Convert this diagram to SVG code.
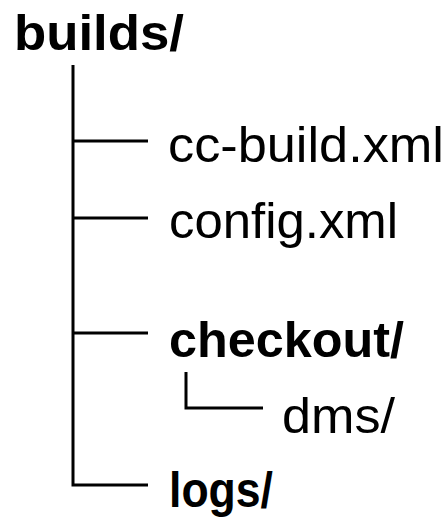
<svg xmlns="http://www.w3.org/2000/svg" width="445" height="519" viewBox="0 0 445 519">
<style>
.t{font-family:"Liberation Sans",Arial,Helvetica,sans-serif;font-size:50px;fill:#000}
.b{font-weight:bold}
.c{stroke:#000;stroke-width:3;fill:none}
</style>
<rect width="445" height="519" fill="#fff"/>
<g id="connectors">
<path class="c" d="M73 65 V485 H148"/>
<path class="c" d="M73 141 H148"/>
<path class="c" d="M73 218 H148"/>
<path class="c" d="M73 333 H148"/>
<path class="c" d="M186 372 V408 H263"/>
</g>
<g id="builds"><text class="t b" x="14" y="50" font-size="53" textLength="170" lengthAdjust="spacingAndGlyphs">builds/</text></g>
<g id="cc-build"><text class="t" x="168" y="162" textLength="276" lengthAdjust="spacingAndGlyphs">cc-build.xml</text></g>
<g id="config"><text class="t" x="169" y="238" textLength="229" lengthAdjust="spacingAndGlyphs">config.xml</text></g>
<g id="checkout"><text class="t b" x="169" y="357" textLength="235" lengthAdjust="spacingAndGlyphs">checkout/</text></g>
<g id="dms"><text class="t" x="282" y="433" textLength="113" lengthAdjust="spacingAndGlyphs">dms/</text></g>
<g id="logs"><text class="t b" x="169" y="507" textLength="104" lengthAdjust="spacingAndGlyphs">logs/</text></g>
</svg>
